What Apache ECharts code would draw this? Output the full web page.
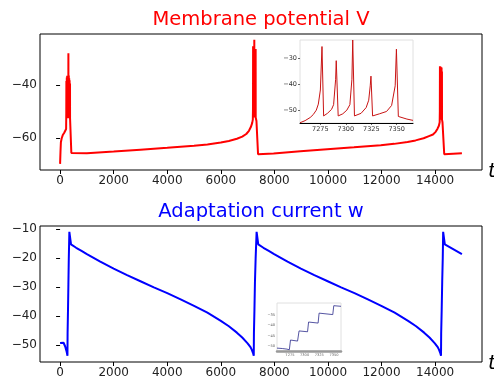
<!DOCTYPE html>
<html><head><meta charset="utf-8">
<script src="https://cdn.jsdelivr.net/npm/echarts@6/dist/echarts.min.js"></script>
<style>html,body{margin:0;padding:0;background:#fff}#c{width:494px;height:387px}</style>
</head><body><div id="c"></div>
<script>
// Membrane potential V (main panel)
const tV = [0, 15, 30, 60, 100, 150, 200, 225,
  231, 235, 237, 246, 250, 252, 261, 265, 267, 276, 280, 282, 291, 295, 297,
  306, 310, 312, 321, 325, 327, 336, 340, 342, 351, 355, 357, 366, 370, 372, 385, 420, 440,
  1000, 2000, 3000, 4000, 5000, 5500, 6000, 6300, 6600, 6800, 6950, 7050, 7120, 7170, 7195,
  7201, 7205, 7207, 7221, 7225, 7227, 7246, 7250, 7252, 7271, 7275, 7277, 7296, 7300, 7302, 7330, 7390, 7410,
  7970, 8970, 9970, 10970, 11970, 12470, 12970, 13270, 13570, 13770, 13920, 14020, 14090, 14140, 14170,
  14176, 14180, 14182, 14191, 14195, 14197, 14206, 14210, 14212, 14221, 14225, 14227,
  14236, 14240, 14242, 14251, 14255, 14257, 14275, 14340, 14380, 15000];
const vV = [-69.6, -65, -61.5, -60, -58.8, -58, -57.3, -56.5,
  -50.5, -38.5, -52.5, -50.5, -37.2, -52.5, -50.5, -36.6, -52.5, -50.5, -37.5, -52.5, -50.5, -36.8, -52.5,
  -50.5, -28.1, -52.5, -50.5, -36.5, -52.5, -50.5, -37.5, -52.5, -50.5, -38.2, -52.5, -50.5, -39.5, -52.5, -53, -65.5, -65.9,
  -65.6, -65.0, -64.3, -63.6, -62.8, -62.3, -61.6, -61.0, -60.2, -59.4, -58.4, -57.2, -55.8, -54.3, -53,
  -49, -25.5, -52.2, -48, -30.9, -52.2, -48, -23.1, -52.2, -48, -36.8, -52.2, -48, -26.5, -52.2, -53.5, -66, -66.3,
  -65.7, -64.9, -64.1, -63.4, -62.6, -62.1, -61.4, -60.8, -60.0, -59.2, -58.6, -57.6, -56.4, -55.3, -54,
  -50, -33, -53, -50, -34.5, -53, -50, -33.2, -53, -50, -34, -53,
  -50, -33.5, -53, -50, -35, -53, -54, -66, -66.3, -65.6];

// Adaptation current w (main panel)
const tW = [0, 60, 130, 190, 240, 275, 280, 295, 310, 325, 346, 408,
  600, 800, 1000, 1500, 2000, 2500, 3000, 3500, 4000, 4500, 5000, 5500, 6000, 6300, 6600, 6800, 7000, 7100, 7150, 7200, 7230,
  7236, 7255, 7275, 7300, 7336, 7398,
  7590, 7790, 7990, 8490, 8990, 9490, 9990, 10490, 10990, 11490, 11990, 12490, 12990, 13290, 13590, 13790, 13990, 14090, 14140, 14190, 14220,
  14226, 14245, 14265, 14285, 14300, 14362, 15000];
const wW = [-49.4, -48.9, -49.3, -50.6, -52.2, -53.8, -46, -38, -29, -20, -10.9, -15.2,
  -16.4, -17.5, -18.6, -21.2, -23.6, -25.9, -28.0, -30.1, -32.1, -34.3, -36.5, -38.9, -41.7, -43.6, -45.8, -47.5, -49.5, -50.7, -51.6, -52.8, -53.8,
  -46, -38, -28, -20, -10.9, -15.2,
  -16.4, -17.5, -18.6, -21.2, -23.6, -25.9, -28.0, -30.1, -32.1, -34.3, -36.5, -38.9, -41.7, -43.6, -45.8, -47.5, -49.5, -50.7, -51.6, -52.8, -53.8,
  -46, -38, -28, -20, -10.9, -15.2, -18.6];

// Inset: V zoom on second burst
const tVi = [7255, 7260, 7265, 7268, 7271, 7273, 7275, 7276.6, 7278.2, 7282, 7286, 7288, 7290, 7290.6, 7292.5,
  7297, 7301, 7304, 7306, 7306.8, 7308.5, 7315, 7320, 7322.5, 7324, 7324.7, 7326.3,
  7333, 7340, 7345, 7348.5, 7349.7, 7351.6, 7360, 7366];
const vVi = [-54.6, -53.8, -52.6, -51.5, -49.8, -47.5, -42.1, -25.5, -52.0, -51, -49.5, -47.7, -38, -30.9, -52.0,
  -51.2, -49.8, -47.7, -38, -23, -52.0, -51, -48.8, -46, -40.5, -36.8, -52.0,
  -51.2, -50.3, -48, -40.5, -26.5, -52.2, -53.2, -53.7];

// Inset: w zoom on second burst
const tWi = [7253, 7262, 7270, 7274, 7276, 7288, 7290.6, 7305, 7306.8, 7323, 7324.7, 7348, 7349.7, 7362];
const wWi = [-51.0, -51.2, -51.5, -51.8, -47.1, -47.6, -42.7, -43.1, -38.4, -38.9, -34.1, -34.8, -30.5, -30.8];

// Tick labels
const xTicks = [0, 2000, 4000, 6000, 8000, 10000, 12000, 14000];
const vTicks = [-60, -40];
const wTicks = [-50, -40, -30, -20, -10];
const insetXTicks = [7275, 7300, 7325, 7350];
const insetVTicks = [-50, -40, -30];
const insetWTicks = [-50, -45, -40, -35];

const pairs = (a, b) => a.map((t, i) => [t, b[i]]);
const fmt = v => (v < 0 ? '\u2212' : '') + Math.abs(v);
const FONT = 'DejaVu Sans';

function xAx(grid, min, max, ticks, opts) {
  return Object.assign({
    type: 'value', gridIndex: grid, min: min, max: max,
    axisLine: {show: false}, splitLine: {show: false},
    axisTick: {show: true, customValues: ticks, length: 4, inside: false, lineStyle: {color: '#000', width: 1}},
    axisLabel: {customValues: ticks, formatter: fmt, color: '#222', fontFamily: FONT, fontSize: 12, margin: 5}
  }, opts || {});
}
function yAx(grid, min, max, ticks, opts) {
  return Object.assign({
    type: 'value', gridIndex: grid, min: min, max: max,
    axisLine: {show: false}, splitLine: {show: false},
    axisTick: {show: true, customValues: ticks, length: 4, inside: false, lineStyle: {color: '#000', width: 1}},
    axisLabel: {customValues: ticks, formatter: fmt, color: '#222', fontFamily: FONT, fontSize: 12, margin: 3}
  }, opts || {});
}

const chart = echarts.init(document.getElementById('c'), null, {renderer: 'canvas'});
chart.setOption({
  animation: false,
  backgroundColor: '#fff',
  title: [
    {text: 'Membrane potential V', left: 256, top: 4.5, textAlign: 'center',
     textStyle: {color: '#ff0000', fontFamily: FONT, fontSize: 19.5, fontWeight: 'normal'}},
    {text: 'Adaptation current w', left: 256, top: 197, textAlign: 'center',
     textStyle: {color: '#0000ff', fontFamily: FONT, fontSize: 19.5, fontWeight: 'normal'}}
  ],
  grid: [
    {left: 40, top: 34, width: 442, height: 136, show: true, borderColor: '#000', borderWidth: 1, backgroundColor: 'transparent'},
    {left: 40, top: 226, width: 442, height: 136, show: true, borderColor: '#000', borderWidth: 1, backgroundColor: 'transparent'},
    {left: 300, top: 40, width: 113, height: 83, show: true, borderColor: '#e0e0e0', borderWidth: 1, backgroundColor: '#fff'},
    {left: 277, top: 303, width: 64, height: 48, show: true, borderColor: '#e0e0e0', borderWidth: 1, backgroundColor: '#fff'}
  ],
  xAxis: [
    xAx(0, -750, 15750, xTicks),
    xAx(1, -750, 15750, xTicks),
    xAx(2, 7255, 7366, insetXTicks, {
      axisLine: {show: true, lineStyle: {color: '#000', width: 1}},
      axisTick: {show: true, customValues: insetXTicks, length: 2, lineStyle: {color: '#000', width: 0.6}},
      axisLabel: {customValues: insetXTicks, formatter: fmt, color: '#333', fontFamily: FONT, fontSize: 6.5, margin: 3}
    }),
    xAx(3, 7253, 7362, insetXTicks, {
      axisLine: {show: true, lineStyle: {color: '#999', width: 2.5}},
      axisTick: {show: false},
      axisLabel: {customValues: insetXTicks, formatter: fmt, color: '#666', fontFamily: FONT, fontSize: 3.6, margin: 2}
    })
  ],
  yAxis: [
    yAx(0, -71.9, -20.9, vTicks),
    yAx(1, -55.97, -8.86, wTicks),
    yAx(2, -54.7, -23, insetVTicks, {
      axisTick: {show: true, customValues: insetVTicks, length: 2, lineStyle: {color: '#000', width: 0.6}},
      axisLabel: {customValues: insetVTicks, formatter: fmt, color: '#333', fontFamily: FONT, fontSize: 6.5, margin: 3}
    }),
    yAx(3, -52.4, -29.2, insetWTicks, {
      axisTick: {show: false},
      axisLabel: {customValues: insetWTicks, formatter: fmt, color: '#555', fontFamily: FONT, fontSize: 3.6, margin: 2}
    })
  ],
  graphic: [
    {type: 'text', left: 488, top: 162, style: {text: 't', font: 'italic 20px "DejaVu Sans"', fill: '#000'}},
    {type: 'text', left: 488, top: 354, style: {text: 't', font: 'italic 20px "DejaVu Sans"', fill: '#000'}}
  ],
  series: [
    {type: 'line', xAxisIndex: 0, yAxisIndex: 0, data: pairs(tV, vV), showSymbol: false,
     lineStyle: {color: '#ff0000', width: 2}, z: 2},
    {type: 'line', xAxisIndex: 1, yAxisIndex: 1, data: pairs(tW, wW), showSymbol: false,
     lineStyle: {color: '#0000ff', width: 2}, z: 2},
    {type: 'line', xAxisIndex: 2, yAxisIndex: 2, data: pairs(tVi, vVi), showSymbol: false,
     lineStyle: {color: '#c81414', width: 1}, z: 5},
    {type: 'line', xAxisIndex: 3, yAxisIndex: 3, data: pairs(tWi, wWi), showSymbol: false,
     lineStyle: {color: '#2a2a8a', width: 0.8}, z: 5}
  ]
});
</script>
</body></html>
